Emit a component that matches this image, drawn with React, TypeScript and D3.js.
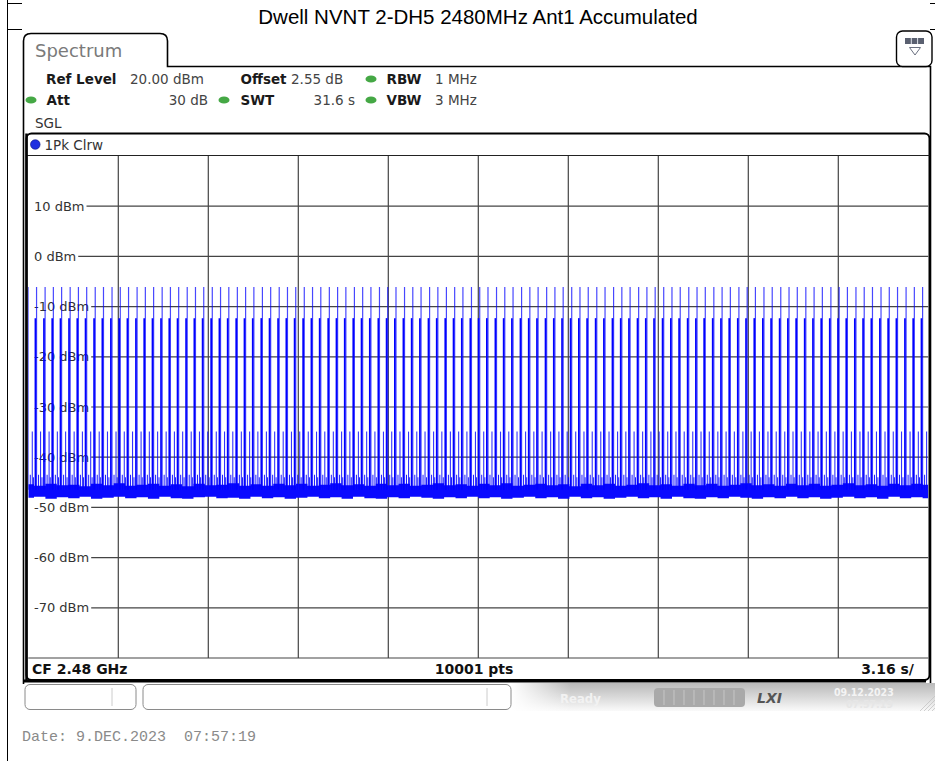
import React from 'react';
import * as d3 from 'd3';

// sweep: 31.6 s, 10001 pts, ref level 20 dBm, 10 dB/div
const SWEEP_S = 31.6;
const REF_LEVEL = 20;
const BOTTOM_LEVEL = -80;
const Y_TICKS = [10, 0, -10, -20, -30, -40, -50, -60, -70];
const X_GRID_S = [3.16, 6.32, 9.48, 12.64, 15.8, 18.96, 22.12, 25.28, 28.44];

// time of each hop burst (s)
const BURST_TIMES = [
  0.00, 0.29, 0.59, 0.88, 1.17, 1.47, 1.76, 2.05, 2.35, 2.64,
  2.94, 3.23, 3.52, 3.82, 4.11, 4.40, 4.70, 4.99, 5.28, 5.58,
  5.87, 6.16, 6.46, 6.75, 7.04, 7.34, 7.63, 7.92, 8.22, 8.51,
  8.81, 9.10, 9.39, 9.69, 9.98, 10.27, 10.57, 10.86, 11.15, 11.45,
  11.74, 12.03, 12.33, 12.62, 12.91, 13.21, 13.50, 13.79, 14.09, 14.38,
  14.68, 14.97, 15.26, 15.56, 15.85, 16.14, 16.44, 16.73, 17.02, 17.32,
  17.61, 17.90, 18.20, 18.49, 18.78, 19.08, 19.37, 19.66, 19.96, 20.25,
  20.55, 20.84, 21.13, 21.43, 21.72, 22.01, 22.31, 22.60, 22.89, 23.19,
  23.48, 23.77, 24.07, 24.36, 24.65, 24.95, 25.24, 25.53, 25.83, 26.12,
  26.42, 26.71, 27.00, 27.30, 27.59, 27.88, 28.18, 28.47, 28.76, 29.06,
  29.35, 29.64, 29.94, 30.23, 30.52, 30.82, 31.11, 31.40,
];

// shape of one burst: offset from burst time (s) and peak level (dBm)
const BURST_PROFILE = [
  { dt: -0.04, dbm: -12.3, kind: 'mid' },
  { dt: 0.0, dbm: -6.1, kind: 'tall' },
  { dt: 0.14, dbm: -34.9, kind: 'short' },
  { dt: 0.07, dbm: -43.5, kind: 'skirt' },
  { dt: -0.11, dbm: -44.0, kind: 'skirt' },
];

// noise floor band, sampled every 0.4 s
const NOISE_TOP = [
  -45.4, -45.7, -45.3, -45.6, -45.5, -45.8, -45.3, -45.6, -45.2, -45.7,
  -45.5, -45.3, -45.7, -45.4, -45.8, -45.3, -45.6, -45.5, -45.2, -45.7,
  -45.4, -45.7, -45.3, -45.6, -45.3, -45.7, -45.5, -45.2, -45.6, -45.4,
  -45.7, -45.3, -45.6, -45.3, -45.7, -45.5, -45.2, -45.6, -45.4, -45.7,
  -45.3, -45.6, -45.2, -45.7, -45.5, -45.3, -45.6, -45.4, -45.8, -45.3,
  -45.6, -45.3, -45.7, -45.5, -45.2, -45.6, -45.4, -45.7, -45.3, -45.6,
  -45.3, -45.7, -45.5, -45.2, -45.6, -45.4, -45.7, -45.3, -45.6, -45.3,
  -45.7, -45.5, -45.2, -45.6, -45.4, -45.7, -45.3, -45.6, -45.3, -45.5,
];
const NOISE_BOTTOM = [
  -48.1, -47.9, -48.3, -48.0, -48.2, -47.9, -48.3, -48.1, -47.9, -48.2,
  -48.0, -48.3, -47.9, -48.2, -48.3, -48.0, -47.9, -48.2, -48.1, -48.3,
  -47.9, -48.2, -48.0, -48.3, -48.1, -47.9, -48.2, -48.0, -48.3, -47.9,
  -48.2, -48.3, -48.0, -48.2, -47.9, -48.1, -48.3, -48.0, -48.2, -47.9,
  -48.2, -48.0, -48.3, -48.1, -47.9, -48.2, -48.0, -48.3, -47.9, -48.2,
  -48.0, -48.3, -48.1, -47.9, -48.2, -48.0, -48.3, -47.9, -48.2, -48.3,
  -48.0, -48.2, -47.9, -48.1, -48.3, -48.0, -48.2, -47.9, -48.2, -48.0,
  -48.3, -48.1, -47.9, -48.2, -48.0, -48.3, -47.9, -48.2, -48.0, -48.2,
];
const NOISE_STEP_S = 0.4;

const W = 935;
const H = 761;
const PLOT = { left: 28.3, right: 928.3, top: 156, bottom: 658 };

const SANS = 'DejaVu Sans, Verdana, sans-serif';

// rough DejaVu Sans widths (em) so grid lines start after the labels
const CHAR_W: Record<string, number> = { '-': 0.361, ' ': 0.318, d: 0.635, B: 0.686, m: 0.974 };
const labelWidth = (s: string, size: number) =>
  s.split('').reduce((a, c) => a + (CHAR_W[c] ?? 0.636), 0) * size;

const GreenDot = ({ cx, cy }: { cx: number; cy: number }) => (
  <ellipse cx={cx} cy={cy} rx={5.5} ry={3.6} fill="#45a845" />
);

export default function App() {
  const x = d3.scaleLinear().domain([0, SWEEP_S]).range([PLOT.left, PLOT.right]);
  const y = d3.scaleLinear().domain([BOTTOM_LEVEL, REF_LEVEL]).range([PLOT.bottom, PLOT.top]);

  const noise = NOISE_TOP.map((top, i) => ({ t: i * NOISE_STEP_S, top, bottom: NOISE_BOTTOM[i] }));
  const noiseArea = d3
    .area<{ t: number; top: number; bottom: number }>()
    .x(d => x(d.t))
    .y0(d => y(d.bottom))
    .y1(d => y(d.top))
    .curve(d3.curveStep)(noise);

  const floor = y(-46.5);
  const styleFor: Record<string, { w: number; o: number }> = {
    tall: { w: 1.2, o: 0.72 },
    mid: { w: 1.7, o: 1 },
    short: { w: 1.1, o: 0.8 },
    skirt: { w: 1, o: 0.9 },
  };

  const headerRow1 = 79;
  const headerRow2 = 100;

  return (
    <svg width={W} height={H} style={{ position: 'absolute', left: 0, top: 0, background: '#fff' }}>
      <defs>
        <clipPath id="plotClip">
          <rect x={PLOT.left} y={PLOT.top} width={PLOT.right - PLOT.left} height={PLOT.bottom - PLOT.top} />
        </clipPath>
        <linearGradient id="statusGrad" x1="0" y1="0" x2="0" y2="1">
          <stop offset="0%" stopColor="#b9b9b9" />
          <stop offset="55%" stopColor="#dcdcdc" />
          <stop offset="100%" stopColor="#fafafa" />
        </linearGradient>
        <linearGradient id="statusFade" x1="0" y1="0" x2="1" y2="0">
          <stop offset="0%" stopColor="#fff" stopOpacity={1} />
          <stop offset="100%" stopColor="#fff" stopOpacity={0} />
        </linearGradient>
      </defs>

      {/* document table lines */}
      <line x1={7.5} y1={0} x2={7.5} y2={H} stroke="#000" strokeWidth={1} />
      <line x1={7} y1={3.5} x2={22} y2={3.5} stroke="#000" strokeWidth={1} />
      <line x1={7} y1={29.5} x2={22} y2={29.5} stroke="#000" strokeWidth={1} />
      <line x1={930} y1={3.5} x2={935} y2={3.5} stroke="#000" strokeWidth={1} />
      <line x1={930} y1={29.5} x2={935} y2={29.5} stroke="#000" strokeWidth={1} />

      <text x={478} y={24} textAnchor="middle" fontFamily="Liberation Sans, Arial, sans-serif" fontSize={20.5} fill="#000">
        Dwell NVNT 2-DH5 2480MHz Ant1 Accumulated
      </text>

      {/* Spectrum tab + frame */}
      <path
        d="M23.5,684 V41 Q23.5,33.5 31,33.5 H160 Q167.5,33.5 167.5,41 V66.5 H930.5 V684"
        fill="none"
        stroke="#000"
        strokeWidth={1.6}
      />
      <text x={35} y={57} fontFamily={SANS} fontSize={18} fill="#7a7a7a">Spectrum</text>

      {/* settings icon */}
      <rect x={896.5} y={31} width={35.5} height={35.5} rx={6} fill="#fff" stroke="#000" strokeWidth={1.4} />
      <rect x={905} y={38} width={19} height={6} fill="#5a6070" />
      <line x1={911.3} y1={38} x2={911.3} y2={44} stroke="#dfe3ea" strokeWidth={1} />
      <line x1={917.6} y1={38} x2={917.6} y2={44} stroke="#dfe3ea" strokeWidth={1} />
      <path d="M909.5,47.5 H920.5 L915,55 Z" fill="#fff" stroke="#6a7080" strokeWidth={1} />

      {/* settings header */}
      <g fontFamily={SANS} fontSize={13.5} dominantBaseline="central">
        <text x={46} y={headerRow1} fontWeight="bold" fill="#1a1a1a">Ref Level</text>
        <text x={130} y={headerRow1} fill="#444">20.00 dBm</text>
        <text x={240.5} y={headerRow1} fontWeight="bold" fill="#1a1a1a">Offset</text>
        <text x={291} y={headerRow1} fill="#444">2.55 dB</text>
        <GreenDot cx={371} cy={headerRow1} />
        <text x={386.5} y={headerRow1} fontWeight="bold" fill="#1a1a1a">RBW</text>
        <text x={435} y={headerRow1} fill="#444">1 MHz</text>

        <GreenDot cx={31} cy={headerRow2} />
        <text x={46.5} y={headerRow2} fontWeight="bold" fill="#1a1a1a">Att</text>
        <text x={208} y={headerRow2} textAnchor="end" fill="#444">30 dB</text>
        <GreenDot cx={224} cy={headerRow2} />
        <text x={240.5} y={headerRow2} fontWeight="bold" fill="#1a1a1a">SWT</text>
        <text x={355} y={headerRow2} textAnchor="end" fill="#444">31.6 s</text>
        <GreenDot cx={371} cy={headerRow2} />
        <text x={386.5} y={headerRow2} fontWeight="bold" fill="#1a1a1a">VBW</text>
        <text x={435} y={headerRow2} fill="#444">3 MHz</text>

        <text x={35} y={123} fill="#333">SGL</text>
      </g>

      {/* trace window */}
      <rect x={26.5} y={133.5} width={903} height={546.5} rx={5} fill="#fff" stroke="#000" strokeWidth={2} />
      <line x1={26.5} y1={155.5} x2={929.5} y2={155.5} stroke="#222" strokeWidth={1.2} />
      <circle cx={35.3} cy={144.5} r={4.8} fill="#1f2fe0" stroke="#0a1280" strokeWidth={0.6} />
      <text x={44.5} y={144.5} dominantBaseline="central" fontFamily={SANS} fontSize={13.5} fill="#333">1Pk Clrw</text>

      {/* grid */}
      <g stroke="#444" strokeWidth={1.2}>
        {X_GRID_S.map(t => (
          <line key={t} x1={x(t)} y1={PLOT.top} x2={x(t)} y2={PLOT.bottom} />
        ))}
        {Y_TICKS.map(v => (
          <line key={v} x1={34 + labelWidth(`${v} dBm`, 13) + 2} y1={y(v)} x2={PLOT.right} y2={y(v)} />
        ))}
        <line x1={PLOT.left} y1={y(BOTTOM_LEVEL)} x2={PLOT.right} y2={y(BOTTOM_LEVEL)} />
      </g>
      <g fontFamily={SANS} fontSize={13} fill="#333" dominantBaseline="central">
        {Y_TICKS.map(v => (
          <text key={v} x={34} y={y(v)}>{`${v} dBm`}</text>
        ))}
      </g>

      {/* trace */}
      <g clipPath="url(#plotClip)">
        <path d={noiseArea ?? ''} fill="#0a0aff" />
        {BURST_TIMES.map(t =>
          BURST_PROFILE.map((p, j) => (
            <line
              key={`${t}-${j}`}
              x1={x(t + p.dt)}
              y1={floor}
              x2={x(t + p.dt)}
              y2={y(p.dbm)}
              stroke="#0000ff"
              strokeWidth={styleFor[p.kind].w}
              strokeOpacity={styleFor[p.kind].o}
            />
          ))
        )}
      </g>
      <line x1={26.5} y1={133.5} x2={26.5} y2={680} stroke="#000" strokeWidth={2.5} />

      {/* footer row */}
      <g fontFamily={SANS} fontSize={14} fontWeight="bold" fill="#111" dominantBaseline="central">
        <text x={32} y={669}>CF 2.48 GHz</text>
        <text x={474} y={669} textAnchor="middle">10001 pts</text>
        <text x={914} y={669} textAnchor="end">3.16 s/</text>
      </g>
      <line x1={23.5} y1={681} x2={926} y2={681} stroke="#000" strokeWidth={3} />

      {/* status bar */}
      <rect x={511} y={683} width={424} height={28} fill="url(#statusGrad)" />
      <rect x={511} y={683} width={60} height={28} fill="url(#statusFade)" />
      <rect x={25} y={684.5} width={111} height={25} rx={5} fill="#fff" stroke="#8a8a8a" strokeWidth={1} />
      <line x1={112} y1={688} x2={112} y2={706} stroke="#ccc" />
      <rect x={143} y={684.5} width={368} height={25} rx={5} fill="#fff" stroke="#8a8a8a" strokeWidth={1} />
      <line x1={487} y1={688} x2={487} y2={706} stroke="#ccc" />
      <text x={560} y={698} dominantBaseline="central" fontFamily="DejaVu Sans Condensed, DejaVu Sans" fontWeight="bold" fontSize={13} fill="#f2f2f2">Ready</text>
      <rect x={654} y={688} width={91} height={19} rx={4} fill="#a9a9a9" />
      {[664, 674, 684, 694, 704, 714, 724, 734].map(px => (
        <line key={px} x1={px} y1={690} x2={px} y2={705} stroke="#c6c6c6" strokeWidth={1} />
      ))}
      <text x={757} y={698} dominantBaseline="central" fontFamily={SANS} fontStyle="italic" fontWeight="bold" fontSize={14} fill="#555">LXI</text>
      <text x={834} y={692} dominantBaseline="central" fontFamily="DejaVu Sans Condensed, DejaVu Sans" fontWeight="bold" fontSize={10.5} fill="#f4f4f4">09.12.2023</text>
      <text x={893} y={704} textAnchor="end" dominantBaseline="central" fontFamily="DejaVu Sans Condensed, DejaVu Sans" fontWeight="bold" fontSize={10.5} fill="#e6e6e6">07:57:19</text>
      {[0, 4, 8, 12].map(o => (
        <line key={o} x1={920 + o} y1={711} x2={935} y2={696 + o} stroke="#c4c4c4" strokeWidth={0.8} />
      ))}

      <text
        x={22}
        y={737}
        dominantBaseline="central"
        fontFamily="Liberation Mono, DejaVu Sans Mono, monospace"
        fontSize={15}
        fill="#8a8a8a"
        style={{ whiteSpace: 'pre' }}
      >
        {'Date: 9.DEC.2023  07:57:19'}
      </text>
    </svg>
  );
}
